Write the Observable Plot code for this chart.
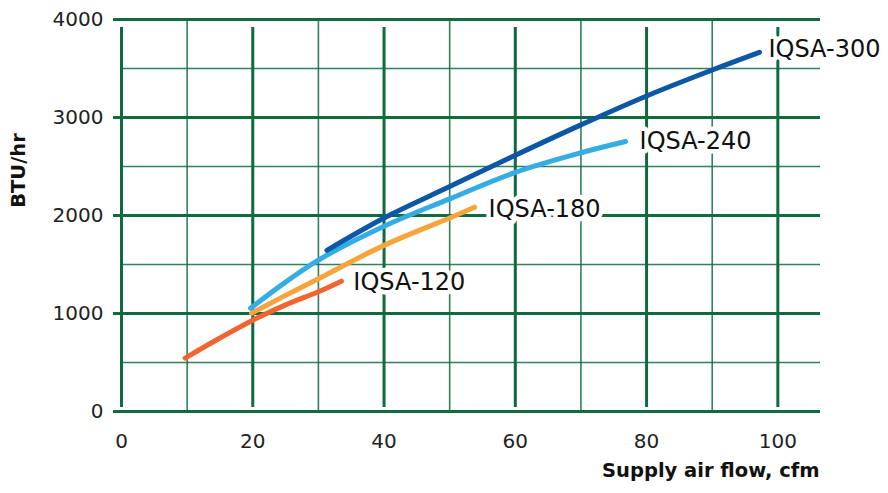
<!DOCTYPE html>
<html>
<head>
<meta charset="utf-8">
<script src="https://cdn.jsdelivr.net/npm/d3@7"></script>
<script src="https://cdn.jsdelivr.net/npm/@observablehq/plot@0.6"></script>
<style>
  html, body { margin: 0; padding: 0; background: #fff; }
</style>
</head>
<body>
<div id="chart"></div>
<script>
// Data
const seriesNames = ["IQSA-120", "IQSA-180", "IQSA-240", "IQSA-300"];
const seriesColors = ["#f26430", "#f8a43c", "#33ade3", "#0c57a6"];

const flow120 = [9.7, 15, 20, 25, 30, 33.5];
const btu120  = [545, 750, 932, 1088, 1222, 1330];

const flow180 = [19.8, 25, 30, 40, 50, 53.8];
const btu180  = [1003, 1185, 1355, 1695, 1975, 2085];

const flow240 = [19.65, 25, 30, 40, 50, 60, 70, 76.8];
const btu240  = [1054, 1320, 1545, 1890, 2170, 2440, 2640, 2755];

const flow300 = [31.3, 40, 50, 60, 70, 80, 90, 97.2];
const btu300  = [1645, 1975, 2295, 2615, 2925, 3220, 3485, 3665];

const xMajorTicks = [0, 20, 40, 60, 80, 100];
const xMinorTicks = [10, 30, 50, 70, 90];
const yMajorTicks = [0, 1000, 2000, 3000, 4000];
const yMinorTicks = [500, 1500, 2500, 3500];

const xLabel = "Supply air flow, cfm";
const yLabel = "BTU/hr";

// Build table
const flows = [flow120, flow180, flow240, flow300];
const btus = [btu120, btu180, btu240, btu300];
const rows = [];
seriesNames.forEach((name, i) => {
  flows[i].forEach((f, j) => rows.push({series: name, flow: f, btu: btus[i][j]}));
});
const ends = seriesNames.map((name, i) => ({
  series: name,
  flow: flows[i][flows[i].length - 1],
  btu: btus[i][btus[i].length - 1]
}));

const green = "#0d6b3d";
const labelDx = [12, 14, 14, 9];
const labelDy = [1, 2, 0, -3];
const font = "'DejaVu Sans', sans-serif";

const chart = Plot.plot({
  width: 888,
  height: 493,
  marginLeft: 121,
  marginRight: 68,
  marginTop: 19,
  marginBottom: 82,
  style: {fontFamily: font, fontSize: "20px", color: "#222", background: "#fff", overflow: "visible"},
  x: {domain: [0, 106.5], label: null, axis: null},
  y: {domain: [0, 4000], label: null, axis: null},
  color: {domain: seriesNames, range: seriesColors},
  marks: [
    // minor grid
    Plot.ruleX(xMinorTicks, {y1: 0, y2: 4000, stroke: green, strokeWidth: 1.6, strokeOpacity: 0.85}),
    Plot.ruleY(yMinorTicks, {x1: 0, x2: 106.5, stroke: green, strokeWidth: 1.6, strokeOpacity: 0.85}),
    // major grid with ticks extending outside
    Plot.ruleX(xMajorTicks, {y1: 0, y2: 4000, insetTop: -4, insetBottom: -8, stroke: green, strokeWidth: 3}),
    Plot.ruleY(yMajorTicks, {x1: 0, x2: 106.5, insetLeft: -8, stroke: green, strokeWidth: 3}),
    // tick labels
    Plot.axisX(xMajorTicks, {tickSize: 0, tickPadding: 22, fontSize: 20, label: null, fill: "#222"}),
    Plot.axisY(yMajorTicks, {tickSize: 0, tickPadding: 18, fontSize: 20, label: null, fill: "#222", tickFormat: d => String(d)}),
    // axis titles
    Plot.text([xLabel], {frameAnchor: "bottom-right", text: d => d, textAnchor: "end", dx: -1, dy: 65, fontWeight: "bold", fontSize: 19.5, fill: "#111"}),
    Plot.text([yLabel], {frameAnchor: "left", text: d => d, textAnchor: "middle", rotate: -90, dx: -103, dy: -45, fontWeight: "bold", fontSize: 19.5, fill: "#111"}),
    // curves
    Plot.line(rows, {x: "flow", y: "btu", z: "series", stroke: "series", strokeWidth: 5, strokeLinecap: "round", curve: "catmull-rom"}),
    // labels
    ...ends.map((e, i) => Plot.text([e], {
      x: "flow", y: "btu", text: "series", textAnchor: "start",
      dx: labelDx[i], dy: labelDy[i], fontSize: 24, fill: "#111",
      stroke: "white", strokeWidth: 9, paintOrder: "stroke"
    }))
  ]
});
document.getElementById("chart").appendChild(chart);
</script>
</body>
</html>
